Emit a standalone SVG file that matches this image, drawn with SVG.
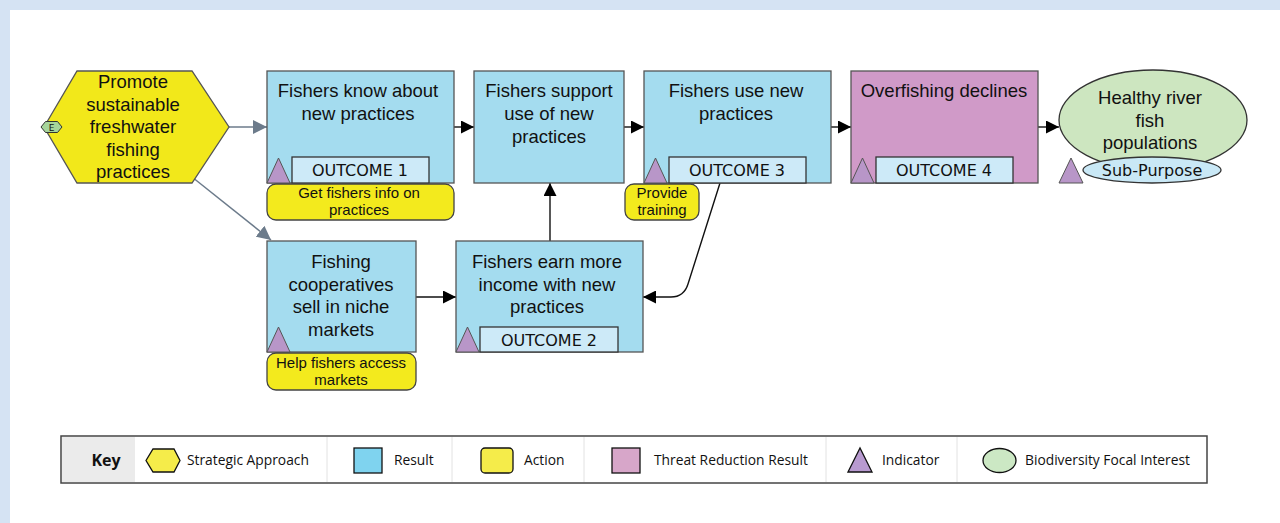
<svg xmlns="http://www.w3.org/2000/svg" width="1280" height="523" viewBox="0 0 1280 523">
<defs>
<style>
.t{font-family:"Liberation Sans",Arial,sans-serif;font-size:18.5px;fill:#111;text-anchor:middle}
.a{font-family:"Liberation Sans",Arial,sans-serif;font-size:15px;fill:#111;text-anchor:middle}
.o{font-family:"DejaVu Sans",Verdana,sans-serif;font-size:16px;fill:#111;text-anchor:middle}
.k{font-family:"Open Sans","Liberation Sans",sans-serif;font-size:13.8px;fill:#111}
.res{fill:#a4dcef;stroke:#555;stroke-width:1.3}
.thr{fill:#d09ac8;stroke:#555;stroke-width:1.3}
.out{fill:#cdeaf8;stroke:#333;stroke-width:1.3}
.act{fill:#f3ea1d;stroke:#444;stroke-width:1.3}
.ind{fill:#b896c8;stroke:#555;stroke-width:1}
.c{fill:none;stroke:#111;stroke-width:1.4}
.g{fill:none;stroke:#6c7b8b;stroke-width:1.5}
</style>
<marker id="ab" viewBox="0 0 12 12" refX="12" refY="6" markerWidth="13" markerHeight="13" markerUnits="userSpaceOnUse" orient="auto"><path d="M0,0 L12,6 L0,12 Z" fill="#000"/></marker>
<marker id="ag" viewBox="0 0 12 12" refX="12" refY="6" markerWidth="14" markerHeight="14" markerUnits="userSpaceOnUse" orient="auto"><path d="M0,0 L12,6 L0,12 Z" fill="#6c7b8b"/></marker>
</defs>
<rect x="0" y="0" width="1280" height="523" fill="#d5e3f3"/>
<rect x="10" y="10" width="1270" height="513" fill="#fff"/>

<g id="connectors">
<line class="g" x1="229" y1="127" x2="267" y2="127" marker-end="url(#ag)"/>
<line class="g" x1="192" y1="177" x2="271" y2="240" marker-end="url(#ag)"/>
<line class="c" x1="454" y1="127" x2="474" y2="127" marker-end="url(#ab)"/>
<line class="c" x1="624" y1="127" x2="644" y2="127" marker-end="url(#ab)"/>
<line class="c" x1="831" y1="127" x2="851" y2="127" marker-end="url(#ab)"/>
<line class="c" x1="1038" y1="127" x2="1059" y2="127" marker-end="url(#ab)"/>
<line class="c" x1="416" y1="297" x2="456" y2="297" marker-end="url(#ab)"/>
<line class="c" x1="550" y1="241" x2="550" y2="183" marker-end="url(#ab)"/>
<path class="c" d="M720,183 L688,284 Q684,297 671,297 L643,297" marker-end="url(#ab)"/>
</g>

<g id="strategy">
<polygon points="44,127 77,71 192,71 229,127 192,183 77,183" fill="#f2e81a" stroke="#555" stroke-width="1.3"/>
<polygon points="41,127 45.5,121.5 57.5,121.5 62,127 57.5,132.5 45.5,132.5" fill="#a6d59a" stroke="#333" stroke-width="1"/>
<text x="51.5" y="130.5" font-family="DejaVu Sans,sans-serif" font-size="9" text-anchor="middle" fill="#111">E</text>
<text class="t" x="133" y="88">Promote</text>
<text class="t" x="133" y="110.5">sustainable</text>
<text class="t" x="133" y="133">freshwater</text>
<text class="t" x="133" y="155.5">fishing</text>
<text class="t" x="133" y="178">practices</text>
</g>

<g id="r1">
<rect class="res" x="267" y="71" width="187" height="112"/>
<text class="t" x="358" y="97">Fishers know about</text>
<text class="t" x="358" y="120">new practices</text>
<rect class="out" x="292" y="157" width="137" height="26"/>
<text class="o" x="360" y="176">OUTCOME 1</text>
<polygon class="ind" points="267,183 278.5,158 290,183"/>
</g>
<g id="a1">
<rect class="act" x="267" y="184" width="187" height="36" rx="9"/>
<text class="a" x="359" y="198">Get fishers info on</text>
<text class="a" x="359" y="215">practices</text>
</g>

<g id="r2">
<rect class="res" x="474" y="71" width="150" height="112"/>
<text class="t" x="549" y="97">Fishers support</text>
<text class="t" x="549" y="120">use of new</text>
<text class="t" x="549" y="143">practices</text>
</g>

<g id="r3">
<rect class="res" x="644" y="71" width="187" height="112"/>
<text class="t" x="736" y="97">Fishers use new</text>
<text class="t" x="736" y="120">practices</text>
<rect class="out" x="669" y="157" width="137" height="26"/>
<text class="o" x="737" y="176">OUTCOME 3</text>
<polygon class="ind" points="644,183 655.5,158 667,183"/>
</g>
<g id="a3">
<rect class="act" x="625" y="184" width="74" height="36" rx="9"/>
<text class="a" x="662" y="198">Provide</text>
<text class="a" x="662" y="215">training</text>
</g>

<g id="t4">
<rect class="thr" x="851" y="71" width="187" height="112"/>
<text class="t" x="944" y="97">Overfishing declines</text>
<rect class="out" x="876" y="157" width="137" height="26"/>
<text class="o" x="944" y="176">OUTCOME 4</text>
<polygon class="ind" points="851,183 862.5,158 874,183"/>
</g>

<g id="target">
<ellipse cx="1153" cy="120" rx="94" ry="50" fill="#cde6c0" stroke="#333" stroke-width="1.3"/>
<text class="t" x="1150" y="104">Healthy river</text>
<text class="t" x="1150" y="127">fish</text>
<text class="t" x="1150" y="149">populations</text>
<ellipse cx="1152" cy="170" rx="69" ry="13" fill="#c9e8f6" stroke="#333" stroke-width="1.3"/>
<text class="o" x="1152" y="176">Sub-Purpose</text>
<polygon class="ind" points="1059,183 1071,158 1083,183"/>
</g>

<g id="r5">
<rect class="res" x="267" y="241" width="149" height="111"/>
<text class="t" x="341" y="268">Fishing</text>
<text class="t" x="341" y="290.5">cooperatives</text>
<text class="t" x="341" y="313">sell in niche</text>
<text class="t" x="341" y="335.5">markets</text>
<polygon class="ind" points="267,352 278.5,327 290,352"/>
</g>
<g id="a5">
<rect class="act" x="267" y="353" width="149" height="37" rx="9"/>
<text class="a" x="341" y="368">Help fishers access</text>
<text class="a" x="341" y="385">markets</text>
</g>

<g id="r6">
<rect class="res" x="456" y="241" width="187" height="111"/>
<text class="t" x="547" y="268">Fishers earn more</text>
<text class="t" x="547" y="290.5">income with new</text>
<text class="t" x="547" y="313">practices</text>
<rect class="out" x="480" y="327" width="138" height="25"/>
<text class="o" x="549" y="346">OUTCOME 2</text>
<polygon class="ind" points="456,352 467.5,327 479,352"/>
</g>

<g id="key">
<rect x="61" y="436" width="1146" height="47" fill="#fff" stroke="#444" stroke-width="1.5"/>
<rect x="62" y="437" width="73" height="45" fill="#ebebeb"/>
<g stroke="#e2e2e2" stroke-width="1">
<line x1="327" y1="437" x2="327" y2="482"/>
<line x1="452" y1="437" x2="452" y2="482"/>
<line x1="584" y1="437" x2="584" y2="482"/>
<line x1="826" y1="437" x2="826" y2="482"/>
<line x1="957" y1="437" x2="957" y2="482"/>
</g>
<text x="106" y="466" font-family="Open Sans,Liberation Sans,sans-serif" font-weight="bold" font-size="16" text-anchor="middle" fill="#111">Key</text>
<polygon points="146,460.5 153,449 174,449 180,460.5 174,472 153,472" fill="#f5ec4a" stroke="#111" stroke-width="1.3"/>
<text class="k" x="187" y="465">Strategic Approach</text>
<rect x="354" y="448" width="28" height="25" fill="#7fd3ef" stroke="#111" stroke-width="1.3"/>
<text class="k" x="394" y="465">Result</text>
<rect x="481" y="448" width="32" height="25" rx="4" fill="#f5ec4a" stroke="#111" stroke-width="1.3"/>
<text class="k" x="524" y="465">Action</text>
<rect x="612" y="448" width="28" height="25" fill="#d7a6c9" stroke="#111" stroke-width="1.3"/>
<text class="k" x="654" y="465">Threat Reduction Result</text>
<polygon points="848,472 860,448 872,472" fill="#b89ad0" stroke="#111" stroke-width="1.3"/>
<text class="k" x="882" y="465">Indicator</text>
<ellipse cx="999.5" cy="460.5" rx="16.5" ry="12" fill="#cce8c4" stroke="#111" stroke-width="1.3"/>
<text class="k" x="1025" y="465">Biodiversity Focal Interest</text>
</g>
</svg>
